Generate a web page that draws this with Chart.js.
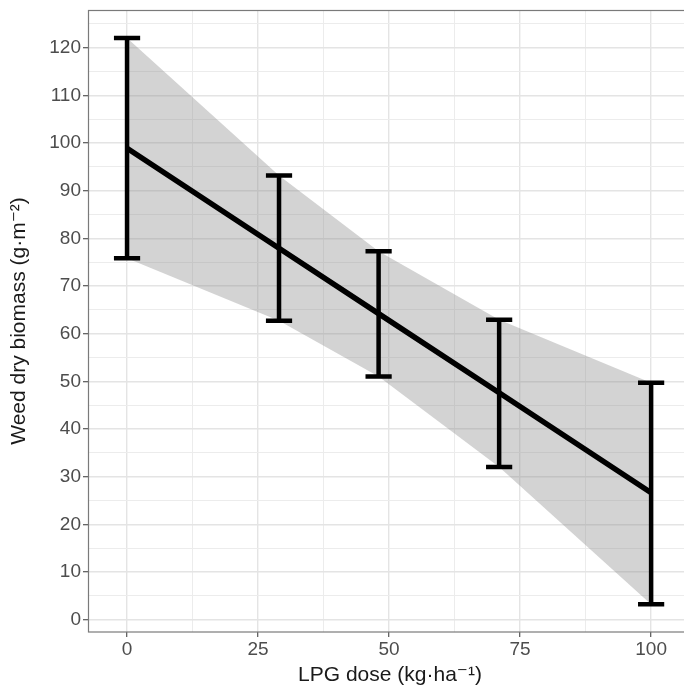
<!DOCTYPE html>
<html>
<head>
<meta charset="utf-8">
<script src="https://cdn.jsdelivr.net/npm/chart.js@4.4.1/dist/chart.umd.min.js"></script>
<style>
  html, body { margin: 0; padding: 0; background: #fff; overflow: hidden; }
  #wrap { width: 692px; height: 688px; }
</style>
</head>
<body>
<div id="wrap"><canvas id="myChart"></canvas></div>
<script>
// values
const doses = [0, 29, 48, 71, 100];
const fitted = [98.9, 77.9, 64.2, 47.6, 26.6];
const upper = [122, 93.2, 77.3, 62.9, 49.7];
const lower = [75.8, 62.7, 51, 32, 3.2];

// tick labels and grid breaks
const xMajor = [0, 25, 50, 75, 100];
const xMinor = [12.5, 37.5, 62.5, 87.5];
const yMajor = [0, 10, 20, 30, 40, 50, 60, 70, 80, 90, 100, 110, 120];
const yMinor = [5, 15, 25, 35, 45, 55, 65, 75, 85, 95, 105, 115, 125];

const capHalf = 2.5;
const font = "'Liberation Sans', Arial, Helvetica, 'DejaVu Sans', sans-serif";

// error bars: vertical stems and caps, split with gaps
let stems = [];
let caps = [];
doses.forEach((d, i) => {
  stems.push({x: d, y: lower[i]}, {x: d, y: upper[i]}, {x: d, y: null});
  caps.push({x: d - capHalf, y: upper[i]}, {x: d + capHalf, y: upper[i]}, {x: d, y: null});
  caps.push({x: d - capHalf, y: lower[i]}, {x: d + capHalf, y: lower[i]}, {x: d, y: null});
});

const toTicks = (major, minor) => major.concat(minor).sort((a, b) => a - b).map(v => ({value: v}));
const isMajor = (list, v) => list.includes(v);

const panelBorder = {
  id: 'panelBorder',
  afterDatasetsDraw(chart) {
    const a = chart.chartArea;
    const ctx = chart.ctx;
    ctx.save();
    ctx.strokeStyle = '#7a7a7a';
    ctx.lineWidth = 1.2;
    ctx.strokeRect(a.left + 0.5, a.top + 0.5, a.right - a.left, a.bottom - a.top - 0.5);
    ctx.restore();
  }
};

const ctx = document.getElementById('myChart').getContext('2d');
const myChart = new Chart(ctx, {
  type: 'line',
  data: {
    datasets: [
      {
        label: 'fit',
        data: doses.map((d, i) => ({x: d, y: fitted[i]})),
        borderColor: '#000',
        borderWidth: 5.5,
        pointRadius: 0,
        fill: false,
        order: 0
      },
      {
        label: 'stems',
        data: stems,
        borderColor: '#000',
        borderWidth: 4.5,
        borderCapStyle: 'butt',
        pointRadius: 0,
        spanGaps: false,
        fill: false,
        order: 1
      },
      {
        label: 'caps',
        data: caps,
        borderColor: '#000',
        borderWidth: 4.5,
        borderCapStyle: 'butt',
        pointRadius: 0,
        spanGaps: false,
        fill: false,
        order: 1
      },
      {
        label: 'upper',
        data: doses.map((d, i) => ({x: d, y: upper[i]})),
        borderWidth: 0,
        borderColor: 'rgba(0,0,0,0)',
        pointRadius: 0,
        backgroundColor: 'rgba(140,140,140,0.38)',
        fill: '+1',
        order: 5
      },
      {
        label: 'lower',
        data: doses.map((d, i) => ({x: d, y: lower[i]})),
        borderWidth: 0,
        borderColor: 'rgba(0,0,0,0)',
        pointRadius: 0,
        fill: false,
        order: 6
      }
    ]
  },
  options: {
    responsive: true,
    maintainAspectRatio: false,
    animation: false,
    layout: { padding: { top: 10, left: 0, right: 0, bottom: 0 } },
    plugins: {
      legend: { display: false },
      tooltip: { enabled: false },
      filler: { drawTime: 'beforeDatasetsDraw' }
    },
    scales: {
      x: {
        type: 'linear',
        min: -7.45,
        max: 107.8,
        afterBuildTicks: (scale) => { scale.ticks = toTicks(xMajor, xMinor); },
        afterFit: (scale) => {
          scale.height = 56;
          scale.paddingLeft = 0;
          scale.paddingRight = 0;
        },
        border: { display: false },
        grid: {
          color: (c) => isMajor(xMajor, c.tick.value) ? '#e4e4e4' : '#ececec',
          lineWidth: (c) => isMajor(xMajor, c.tick.value) ? 1.4 : 1,
          tickColor: (c) => isMajor(xMajor, c.tick.value) ? '#555' : 'rgba(0,0,0,0)',
          tickLength: 5,
          tickWidth: 1.2
        },
        ticks: {
          autoSkip: false,
          maxRotation: 0,
          padding: 1,
          color: '#4d4d4d',
          font: { family: font, size: 19 },
          callback: (v) => isMajor(xMajor, v) ? String(v) : ''
        },
        title: {
          display: true,
          text: 'LPG dose (kg·ha⁻¹)',
          color: '#1a1a1a',
          font: { family: font, size: 21 },
          padding: { top: 4, bottom: 0 }
        }
      },
      y: {
        type: 'linear',
        min: -2.6,
        max: 127.9,
        afterBuildTicks: (scale) => { scale.ticks = toTicks(yMajor, yMinor); },
        afterFit: (scale) => {
          scale.width = 88;
          scale.paddingTop = 0;
          scale.paddingBottom = 0;
        },
        border: { display: false },
        grid: {
          color: (c) => isMajor(yMajor, c.tick.value) ? '#e4e4e4' : '#ececec',
          lineWidth: (c) => isMajor(yMajor, c.tick.value) ? 1.4 : 1,
          tickColor: (c) => isMajor(yMajor, c.tick.value) ? '#555' : 'rgba(0,0,0,0)',
          tickLength: 5,
          tickWidth: 1.2
        },
        ticks: {
          autoSkip: false,
          padding: 2,
          color: '#4d4d4d',
          font: { family: font, size: 19 },
          callback: (v) => isMajor(yMajor, v) ? String(v) : ''
        },
        title: {
          display: true,
          text: 'Weed dry biomass (g·m⁻²)',
          color: '#1a1a1a',
          font: { family: font, size: 21 },
          padding: { top: 7, bottom: 0 }
        }
      }
    }
  },
  plugins: [panelBorder]
});
</script>
</body>
</html>
